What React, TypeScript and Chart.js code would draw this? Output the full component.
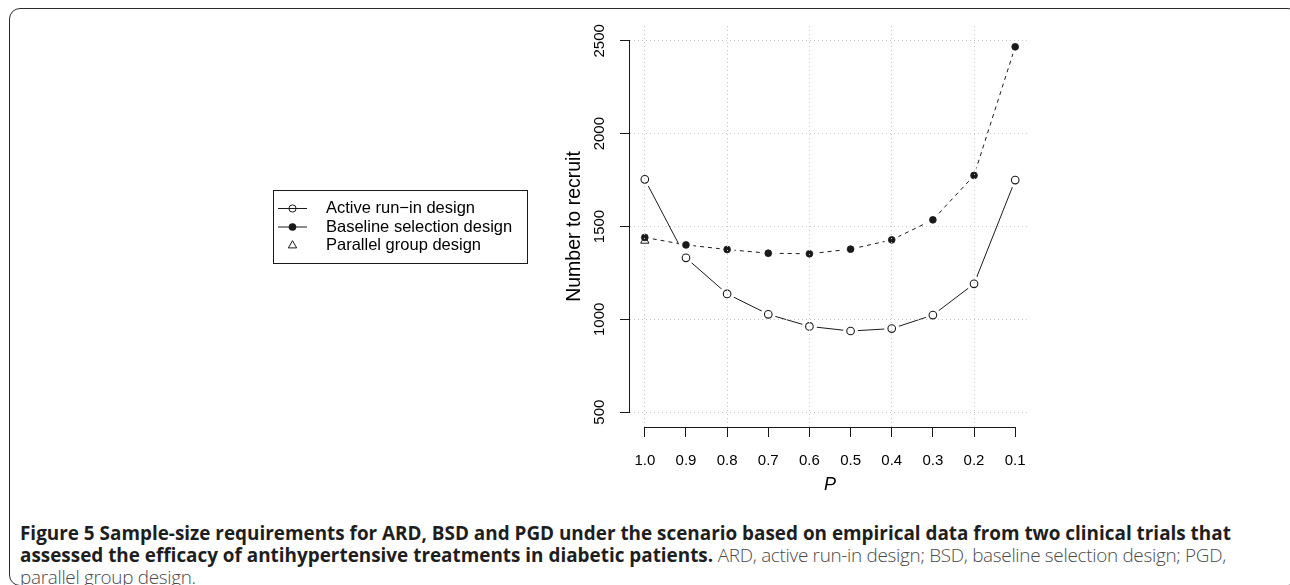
import React, { useEffect, useRef } from "react";
import { Chart, registerables } from "chart.js";

Chart.register(...registerables);

// ---- data ----
const pValues = [1.0, 0.9, 0.8, 0.7, 0.6, 0.5, 0.4, 0.3, 0.2, 0.1];
const ardValues = [1754, 1331, 1137, 1027, 962, 937, 950, 1023, 1191, 1750];
const bsdValues = [1441, 1401, 1376, 1356, 1353, 1378, 1428, 1536, 1775, 2468];
const pgdP = [1.0];
const pgdValues = [1423];
const xTickValues = [1.0, 0.9, 0.8, 0.7, 0.6, 0.5, 0.4, 0.3, 0.2, 0.1];
const xTickLabels = ["1.0", "0.9", "0.8", "0.7", "0.6", "0.5", "0.4", "0.3", "0.2", "0.1"];
const yTickValues = [500, 1000, 1500, 2000, 2500];
const yTickLabels = ["500", "1000", "1500", "2000", "2500"];
const legendLabels = ["Active run\u2212in design", "Baseline selection design", "Parallel group design"];
const xTitle = "P";
const yTitle = "Number to recruit";

const INK = "#1a1a1a";
const GRID = "#c8c8c8";
const FONT = "'Liberation Sans', Arial, Helvetica, sans-serif";

const toPts = (xs: number[], ys: number[]) => xs.map((x, i) => ({ x, y: ys[i] }));

function drawTriangle(ctx: CanvasRenderingContext2D, x: number, y: number, r: number) {
  let rad = 0;
  ctx.beginPath();
  ctx.moveTo(x + Math.sin(rad) * r, y - Math.cos(rad) * r);
  rad += (2 * Math.PI) / 3;
  ctx.lineTo(x + Math.sin(rad) * r, y - Math.cos(rad) * r);
  rad += (2 * Math.PI) / 3;
  ctx.lineTo(x + Math.sin(rad) * r, y - Math.cos(rad) * r);
  ctx.closePath();
  ctx.stroke();
}

const rStylePlugin = {
  id: "rStyle",
  afterDraw(chart: any) {
    const { ctx, chartArea, scales } = chart;
    const xs = scales.x;
    const ys = scales.y;
    ctx.save();
    ctx.strokeStyle = INK;
    ctx.lineWidth = 1;
    ctx.setLineDash([]);
    // x axis line between first and last tick
    const yb = Math.round(chartArea.bottom) + 0.5;
    ctx.beginPath();
    ctx.moveTo(xs.getPixelForValue(xTickValues[0]), yb);
    ctx.lineTo(xs.getPixelForValue(xTickValues[xTickValues.length - 1]), yb);
    ctx.stroke();
    // y axis line between first and last tick
    const xl = Math.round(chartArea.left) - 0.5;
    ctx.beginPath();
    ctx.moveTo(xl, ys.getPixelForValue(yTickValues[0]));
    ctx.lineTo(xl, ys.getPixelForValue(yTickValues[yTickValues.length - 1]));
    ctx.stroke();

    // legend
    const lx = 273.5, ly = 190.5, lw = 254, lh = 73;
    ctx.strokeRect(lx, ly, lw, lh);
    const rows = [208.5, 227, 245.5];
    const sx = 292.5;
    ctx.font = `16.5px ${FONT}`;
    ctx.textBaseline = "middle";
    ctx.textAlign = "left";
    ctx.fillStyle = "#000";
    // row 1: line + open circle
    ctx.beginPath();
    ctx.moveTo(278, rows[0]);
    ctx.lineTo(307, rows[0]);
    ctx.stroke();
    ctx.beginPath();
    ctx.arc(sx, rows[0], 3.6, 0, Math.PI * 2);
    ctx.stroke();
    // row 2: line + filled circle
    ctx.beginPath();
    ctx.moveTo(278, rows[1]);
    ctx.lineTo(307, rows[1]);
    ctx.stroke();
    ctx.beginPath();
    ctx.arc(sx, rows[1], 3.8, 0, Math.PI * 2);
    ctx.fillStyle = INK;
    ctx.fill();
    // row 3: triangle
    drawTriangle(ctx, sx, rows[2], 4.8);
    ctx.fillStyle = "#000";
    legendLabels.forEach((t, i) => ctx.fillText(t, 326, rows[i]));
    ctx.restore();
  },
};

export default function App() {
  const canvasRef = useRef<HTMLCanvasElement | null>(null);

  useEffect(() => {
    document.body.style.margin = "0";
    document.body.style.overflow = "hidden";
    const canvas = canvasRef.current;
    if (!canvas) return;

    const chart = new Chart(canvas, {
      type: "line",
      data: {
        datasets: [
          {
            label: "ARD line",
            data: toPts(pValues, ardValues),
            borderColor: INK,
            borderWidth: 1,
            pointRadius: 0,
            fill: false,
            order: 7,
          },
          {
            label: "ARD gap",
            data: toPts(pValues, ardValues),
            showLine: false,
            pointRadius: 7.5,
            pointBorderWidth: 0,
            pointBackgroundColor: "#ffffff",
            pointBorderColor: "#ffffff",
            order: 6,
          },
          {
            label: legendLabels[0],
            data: toPts(pValues, ardValues),
            showLine: false,
            pointRadius: 3.8,
            pointBorderWidth: 1.1,
            pointBorderColor: INK,
            pointBackgroundColor: "rgba(255,255,255,0)",
            order: 5,
          },
          {
            label: "BSD line",
            data: toPts(pValues, bsdValues),
            borderColor: INK,
            borderWidth: 1,
            borderDash: [4, 4],
            pointRadius: 0,
            fill: false,
            order: 4,
          },
          {
            label: "BSD gap",
            data: toPts(pValues, bsdValues),
            showLine: false,
            pointRadius: 7.5,
            pointBorderWidth: 0,
            pointBackgroundColor: "#ffffff",
            pointBorderColor: "#ffffff",
            order: 3,
          },
          {
            label: legendLabels[1],
            data: toPts(pValues, bsdValues),
            showLine: false,
            pointRadius: 3.4,
            pointBorderWidth: 0.8,
            pointBorderColor: INK,
            pointBackgroundColor: INK,
            order: 2,
          },
          {
            label: legendLabels[2],
            data: toPts(pgdP, pgdValues),
            showLine: false,
            pointStyle: "triangle",
            pointRadius: 4.8,
            pointBorderWidth: 1,
            pointBorderColor: INK,
            pointBackgroundColor: "rgba(255,255,255,0)",
            order: 1,
          },
        ],
      },
      options: {
        responsive: false,
        animation: false,
        devicePixelRatio: 1,
        layout: { padding: { left: 560, right: 260, top: 26, bottom: 0 } },
        plugins: {
          legend: { display: false },
          tooltip: { enabled: false },
        },
        events: [],
        scales: {
          x: {
            type: "linear",
            reverse: true,
            min: 0.064,
            max: 1.036,
            afterBuildTicks: (scale: any) => {
              scale.ticks = xTickValues.map((v) => ({ value: v }));
            },
            afterFit: (scale: any) => {
              scale.height = 73;
            },
            grid: {
              z: 1,
              color: (c: any) =>
                c.tick && Math.round(c.tick.value * 10) % 2 === 0 ? GRID : "rgba(0,0,0,0)",
              lineWidth: 1,
              drawTicks: true,
              tickLength: 10,
              tickColor: INK,
              tickWidth: 1,
            },
            border: { display: false, dash: [1, 3] },
            ticks: {
              color: "#000",
              font: { family: FONT, size: 15 },
              padding: 15,
              maxRotation: 0,
              autoSkip: false,
              callback: (v: any) => {
                const i = xTickValues.findIndex((t) => Math.abs(t - Number(v)) < 1e-6);
                return i >= 0 ? xTickLabels[i] : "";
              },
            },
            title: {
              display: true,
              text: xTitle,
              color: "#000",
              font: { family: FONT, size: 18, style: "italic" },
              padding: { top: 0, bottom: 4 },
            },
          },
          y: {
            type: "linear",
            min: 420,
            max: 2580,
            afterBuildTicks: (scale: any) => {
              scale.ticks = yTickValues.map((v) => ({ value: v }));
            },
            afterFit: (scale: any) => {
              scale.width = 70;
            },
            grid: {
              z: 1,
              color: GRID,
              lineWidth: 1,
              drawTicks: true,
              tickLength: 10,
              tickColor: INK,
              tickWidth: 1,
            },
            border: { display: false, dash: [1, 3] },
            ticks: {
              color: "#000",
              font: { family: FONT, size: 15 },
              padding: 3,
              minRotation: 90,
              maxRotation: 90,
              crossAlign: "center",
              autoSkip: false,
              callback: (v: any) => {
                const i = yTickValues.indexOf(Number(v));
                return i >= 0 ? yTickLabels[i] : "";
              },
            },
            title: {
              display: true,
              text: yTitle,
              color: "#000",
              font: { family: FONT, size: 19.5 },
              padding: { top: 3, bottom: 0 },
            },
          },
        },
      },
      plugins: [rStylePlugin],
    } as any);

    return () => chart.destroy();
  }, []);

  const capFont = "'Open Sans', 'Noto Sans', sans-serif";
  const lightStyle = { color: "#4a4a4a", fontWeight: 300, letterSpacing: "-0.3px" } as const;

  return (
    <div style={{ position: "relative", width: 1290, height: 585, overflow: "hidden", background: "#fff" }}>
      <div
        style={{
          position: "absolute",
          left: 9,
          top: 8,
          width: 1290,
          height: 578,
          border: "1.5px solid #2b2b2b",
          borderRadius: 11,
          boxSizing: "border-box",
        }}
      />
      <canvas
        ref={canvasRef}
        width={1290}
        height={500}
        style={{ position: "absolute", left: 0, top: 0, width: 1290, height: 500 }}
      />
      <div
        style={{
          position: "absolute",
          left: 20,
          top: 522,
          width: 1265,
          fontFamily: capFont,
          fontSize: 18.9,
          lineHeight: "22px",
          color: "#1e1e1e",
          whiteSpace: "nowrap",
        }}
      >
        <b>
          Figure 5 Sample-size requirements for ARD, BSD and PGD under the scenario based on empirical data from two
          clinical trials that
        </b>
        <br />
        <b>assessed the efficacy of antihypertensive treatments in diabetic patients.</b>
        <span style={lightStyle}> ARD, active run-in design; BSD, baseline selection design; PGD,</span>
        <br />
        <span style={lightStyle}>parallel group design.</span>
      </div>
    </div>
  );
}
